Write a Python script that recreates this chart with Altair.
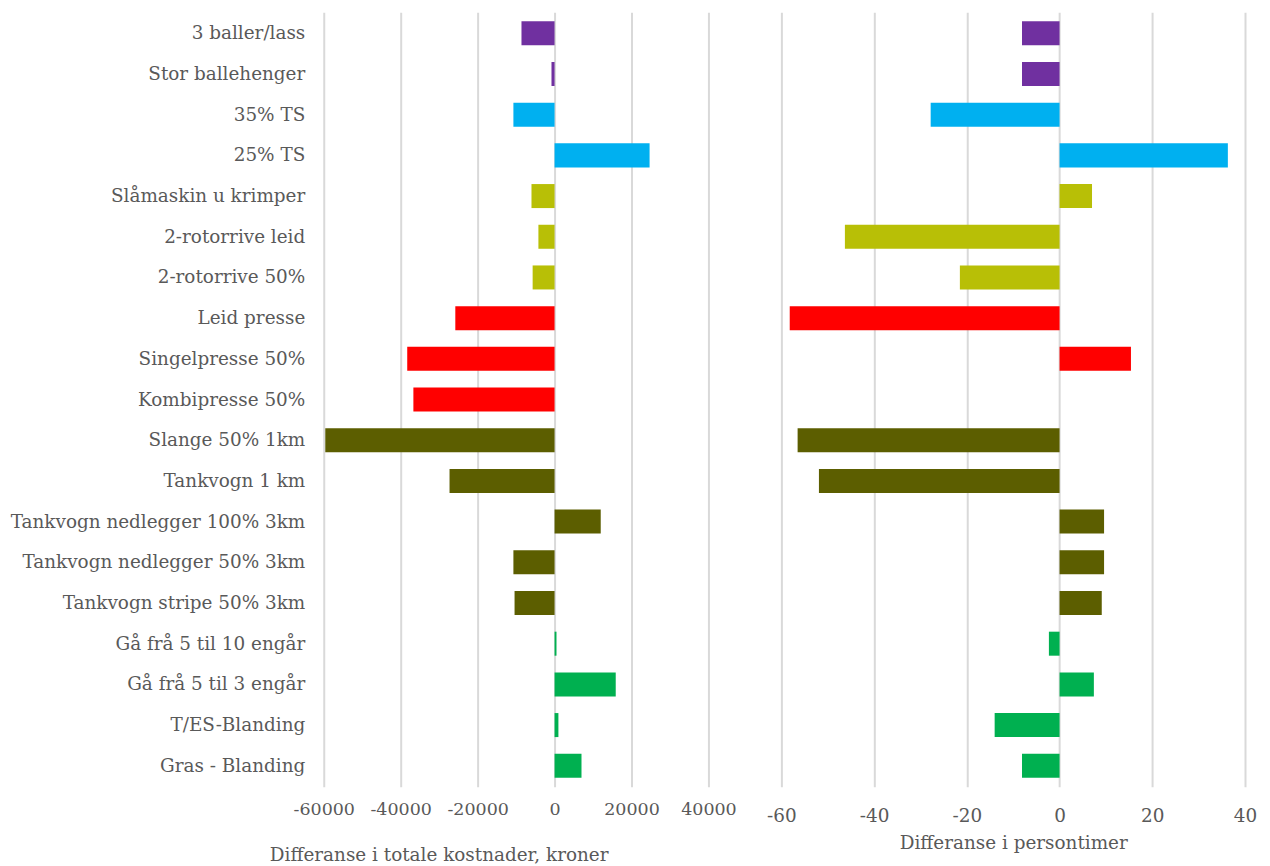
import altair as alt
import pandas as pd

categories = [
    "3 baller/lass", "Stor ballehenger", "35% TS", "25% TS",
    "Slåmaskin u krimper", "2-rotorrive leid", "2-rotorrive 50%",
    "Leid presse", "Singelpresse 50%", "Kombipresse 50%",
    "Slange 50% 1km", "Tankvogn 1 km", "Tankvogn nedlegger 100% 3km",
    "Tankvogn nedlegger 50% 3km", "Tankvogn stripe 50% 3km",
    "Gå frå 5 til 10 engår", "Gå frå 5 til 3 engår", "T/ES-Blanding",
    "Gras - Blanding",
]
groups = ["A", "A", "B", "B", "C", "C", "C", "D", "D", "D",
          "E", "E", "E", "E", "E", "F", "F", "F", "F"]
cost_kroner = [-8600, -800, -10700, 24700, -6000, -4200, -5700, -25800,
               -38300, -36700, -59600, -27300, 12000, -10700, -10400,
               500, 15900, 1000, 7000]
person_hours = [-8.1, -8.1, -27.8, 36.3, 7.0, -46.3, -21.5, -58.2, 15.4, 0.0,
                -56.5, -51.9, 9.6, 9.6, 9.1, -2.3, 7.4, -14.0, -8.1]
group_domain = ["A", "B", "C", "D", "E", "F"]
group_colors = ["#7030A0", "#00B0F0", "#B8BF06", "#FF0000", "#5C5E00", "#00B050"]
cost_ticks = [-60000, -40000, -20000, 0, 20000, 40000]
hour_ticks = [-60, -40, -20, 0, 20, 40]

df = pd.DataFrame({"kategori": categories, "gruppe": groups,
                   "kroner": cost_kroner, "timer": person_hours})

FONT = "DejaVu Serif"
FS = 18.4
TXT = "#595959"
GRID = "#D9D9D9"

color = alt.Color("gruppe:N", scale=alt.Scale(domain=group_domain, range=group_colors), legend=None)
yscale = alt.Scale(paddingInner=0.41, paddingOuter=0.22)

left = alt.Chart(df).mark_bar().encode(
    x=alt.X("kroner:Q",
            scale=alt.Scale(domain=[-60000, 40000], nice=False, zero=False),
            axis=alt.Axis(values=cost_ticks, labelExpr="'' + datum.value", labelOverlap=False,
                          labelFlush=False,
                          grid=True, gridColor=GRID, gridWidth=2,
                          domain=False, ticks=False, tickSize=0, labelPadding=14,
                          labelFont=FONT, labelFontSize=17.5, labelColor=TXT,
                          title="Differanse i totale kostnader, kroner", titleFont=FONT,
                          titleFontSize=FS, titleFontWeight="normal", titleColor=TXT,
                          titleX=115, titleY=68, titleBaseline="middle", titleAnchor="middle")),
    y=alt.Y("kategori:N", sort=categories, scale=yscale,
            axis=alt.Axis(title=None, domain=False, ticks=False, labelPadding=19, labelLimit=500,
                          labelFont=FONT, labelFontSize=FS, labelColor=TXT)),
    color=color,
).properties(width=385, height=775)

right = alt.Chart(df).mark_bar().encode(
    x=alt.X("timer:Q",
            scale=alt.Scale(domain=[-60, 40], nice=False, zero=False),
            axis=alt.Axis(values=hour_ticks, labelExpr="'' + datum.value", labelOverlap=False,
                          labelFlush=False,
                          grid=True, gridColor=GRID, gridWidth=2,
                          domain=False, ticks=False, tickSize=0, labelPadding=20,
                          labelFont=FONT, labelFontSize=FS, labelColor=TXT,
                          title="Differanse i persontimer", titleFont=FONT,
                          titleFontSize=FS, titleFontWeight="normal", titleColor=TXT,
                          titleY=56, titleBaseline="middle")),
    y=alt.Y("kategori:N", sort=categories, scale=yscale, axis=None),
    color=color,
).properties(width=464, height=775)

chart = alt.hconcat(left, right, spacing=73, bounds="flush").resolve_scale(y="independent").properties(
    padding={"left": 2, "top": 4, "right": 5, "bottom": 5}
).configure_view(stroke=None)

chart.save("out.html", embed_options={"renderer": "svg", "actions": False})
